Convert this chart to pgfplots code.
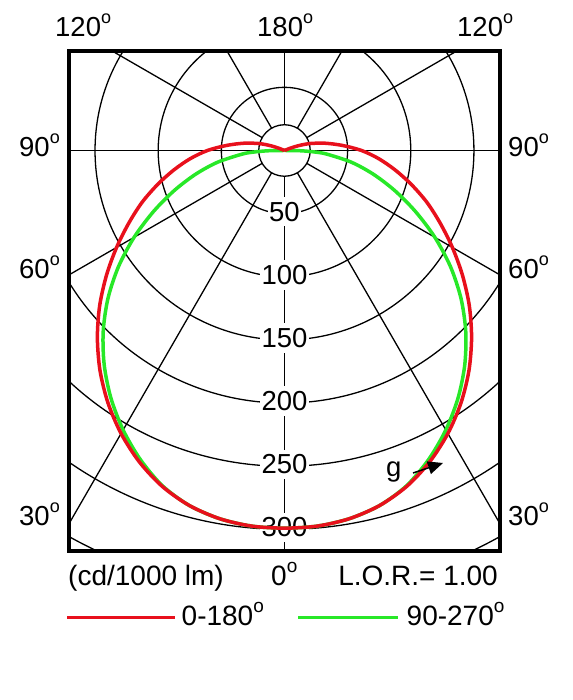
\documentclass[border=0pt]{standalone}
\usepackage{pgfplots}
\pgfplotsset{compat=1.18}
\usepackage{fontspec}
\setmainfont{Liberation Sans}
\usetikzlibrary{arrows.meta}
\definecolor{cred}{RGB}{232,16,28}
\definecolor{cgreen}{RGB}{40,232,40}
\newcommand{\dg}{\raisebox{13pt}{\fontsize{18}{18}\selectfont o}}
\newcommand{\dgb}{\raisebox{13.5pt}{\fontsize{19}{19}\selectfont o}}
\begin{document}
\begin{tikzpicture}
\path[use as bounding box] (0pt,0pt) rectangle (572pt,700pt);
\begin{axis}[
  at={(68.5pt,149pt)}, anchor=south west,
  x=1.263pt, y=1.263pt,
  xmin=-171, xmax=171, ymin=-317.1, ymax=79,
  xtick=\empty, ytick=\empty,
  axis line style={line width=4pt, line join=miter},
  axis on top=true,
  clip=true,
]
% grid circles
\draw[line width=1.3pt] (axis cs:0,0) circle[radius=20.4];
\draw[line width=1.3pt] (axis cs:0,0) circle[radius=50];
\draw[line width=1.3pt] (axis cs:0,0) circle[radius=100];
\draw[line width=1.3pt] (axis cs:0,0) circle[radius=150];
\draw[line width=1.3pt] (axis cs:0,0) circle[radius=200];
\draw[line width=1.3pt] (axis cs:0,0) circle[radius=250];
\draw[line width=1.3pt] (axis cs:0,0) circle[radius=300];
\draw[line width=1.3pt] (axis cs:0,0) circle[radius=350];
% radial lines
\addplot[black, line width=1.3pt, data cs=polar] coordinates {(-90,20.4) (-90,450)};
\addplot[black, line width=1.3pt, data cs=polar] coordinates {(-60,20.4) (-60,450)};
\addplot[black, line width=1.3pt, data cs=polar] coordinates {(-30,20.4) (-30,450)};
\addplot[black, line width=1.3pt, data cs=polar] coordinates {(0,20.4) (0,450)};
\addplot[black, line width=1.3pt, data cs=polar] coordinates {(30,20.4) (30,450)};
\addplot[black, line width=1.3pt, data cs=polar] coordinates {(60,20.4) (60,450)};
\addplot[black, line width=1.3pt, data cs=polar] coordinates {(90,20.4) (90,450)};
\addplot[black, line width=1.3pt, data cs=polar] coordinates {(120,20.4) (120,450)};
\addplot[black, line width=1.3pt, data cs=polar] coordinates {(150,20.4) (150,450)};
\addplot[black, line width=1.3pt, data cs=polar] coordinates {(180,20.4) (180,450)};
\addplot[black, line width=1.3pt, data cs=polar] coordinates {(210,20.4) (210,450)};
\addplot[black, line width=1.3pt, data cs=polar] coordinates {(240,20.4) (240,450)};
% radial labels
\node[fill=white, inner xsep=1.5pt, inner ysep=5pt, yshift=2pt, font=\fontsize{27.5}{27.5}\selectfont] at (axis cs:0,-50) {50};
\node[fill=white, inner xsep=1.5pt, inner ysep=5pt, yshift=2pt, font=\fontsize{27.5}{27.5}\selectfont] at (axis cs:0,-100) {100};
\node[fill=white, inner xsep=1.5pt, inner ysep=5pt, yshift=2pt, font=\fontsize{27.5}{27.5}\selectfont] at (axis cs:0,-150) {150};
\node[fill=white, inner xsep=1.5pt, inner ysep=5pt, yshift=2pt, font=\fontsize{27.5}{27.5}\selectfont] at (axis cs:0,-200) {200};
\node[fill=white, inner xsep=1.5pt, inner ysep=5pt, yshift=2pt, font=\fontsize{27.5}{27.5}\selectfont] at (axis cs:0,-250) {250};
\node[fill=white, inner xsep=1.5pt, inner ysep=5pt, yshift=2pt, font=\fontsize{27.5}{27.5}\selectfont] at (axis cs:0,-300) {300};
% 90-270 plane (green)
\addplot[cgreen, line width=3.5pt, smooth, tension=0.5, data cs=polar] coordinates {
(0,0) (-179,13) (-177,25) (-175,34) (-170,54) (-165,73) (-160,93) (-155,114.5)
(-150,137.5) (-145,160.5) (-140,182.5) (-135,203) (-130,222) (-125,239.5) (-120,255.5)
(-115,270) (-110,282.5) (-105,291) (-100,296) (-95,298.5) (-90,299)
(-85,298.5) (-80,296) (-75,291) (-70,282.5) (-65,270) (-60,255.5) (-55,239.5)
(-50,222) (-45,203) (-40,182.5) (-35,160.5) (-30,137.5) (-25,114.5) (-20,93)
(-15,73) (-10,54) (-5,34) (-3,25) (-1,13) (0,0)
};
% 0-180 plane (red)
\addplot[cred, line width=3.5pt, smooth, tension=0.5, data cs=polar] coordinates {
(0,0) (-202,4) (-200,9) (-198,14) (-195,21.5) (-190,33) (-185,46) (-180,61)
(-175,75) (-170,89) (-165,104) (-160,120) (-155,136) (-150,153.5) (-145,172)
(-140,191) (-135,209.5) (-130,227.25) (-125,243.75) (-120,258.75) (-115,272)
(-110,283) (-105,291) (-100,296) (-95,298.5) (-90,299)
(-85,298.5) (-80,296) (-75,291) (-70,283) (-65,272) (-60,258.75) (-55,243.75)
(-50,227.25) (-45,209.5) (-40,191) (-35,172) (-30,153.5) (-25,136) (-20,120)
(-15,104) (-10,89) (-5,75) (0,61) (5,46) (10,33) (15,21.5) (18,14) (20,9) (22,4) (0,0)
};
\end{axis}
% angle labels
\begin{scope}[font=\fontsize{27.5}{27.5}\selectfont]
\node[anchor=base west, inner sep=0pt] at (55pt,663.3pt) {120\dg};
\node[anchor=base west, inner sep=0pt] at (257pt,663.3pt) {180\dg};
\node[anchor=base west, inner sep=0pt] at (457pt,663.3pt) {120\dg};
\node[anchor=base east, inner sep=0pt] at (60pt,543pt) {90\dg};
\node[anchor=base west, inner sep=0pt] at (508pt,543pt) {90\dg};
\node[anchor=base east, inner sep=0pt] at (60pt,421pt) {60\dg};
\node[anchor=base west, inner sep=0pt] at (508pt,421pt) {60\dg};
\node[anchor=base east, inner sep=0pt] at (60pt,174pt) {30\dg};
\node[anchor=base west, inner sep=0pt] at (508pt,174pt) {30\dg};
\node[anchor=base west, inner sep=0pt] at (386pt,223pt) {g};
\end{scope}
\draw[line width=1.5pt, -{Triangle[length=15pt,width=13pt]}] (413pt,227pt) -- (443pt,237pt);
% bottom texts
\begin{scope}[font=\fontsize{28}{28}\selectfont]
\node[anchor=base west, inner sep=0pt] at (68pt,114pt) {(cd/1000 lm)};
\node[anchor=base west, inner sep=0pt] at (271pt,114pt) {0\dgb};
\node[anchor=base east, inner sep=0pt] at (498pt,114pt) {L.O.R.= 1.00};
\node[anchor=base west, inner sep=0pt] at (181.5pt,74pt) {0-180\dgb};
\node[anchor=base west, inner sep=0pt] at (406.5pt,74pt) {90-270\dgb};
\end{scope}
\draw[cred, line width=3.3pt] (67pt,82.3pt) -- (175pt,82.3pt);
\draw[cgreen, line width=3.3pt] (298pt,82.3pt) -- (398pt,82.3pt);
\end{tikzpicture}
\end{document}
